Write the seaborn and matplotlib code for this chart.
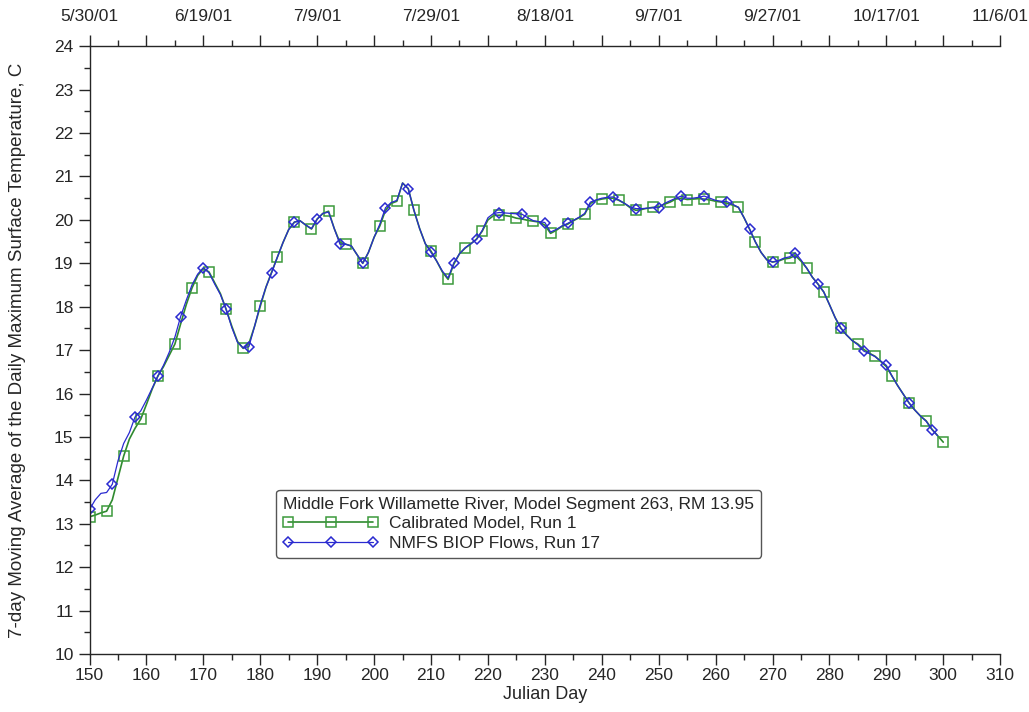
import numpy as np
import pandas as pd
import matplotlib
matplotlib.use("Agg")
import matplotlib.pyplot as plt
from matplotlib.ticker import MultipleLocator
import seaborn as sns

# Julian day 150..300, daily 7-day moving average of daily max temperature (C)
days = list(range(150, 301))

calibrated = [
    13.16, 13.20, 13.25, 13.29, 13.55, 14.05, 14.56, 14.95, 15.20, 15.41,  # 150-159
    15.75, 16.10, 16.40, 16.62, 16.88, 17.14, 17.60, 18.05, 18.43, 18.72,  # 160-169
    18.88, 18.80, 18.55, 18.30, 17.94, 17.55, 17.20, 17.04, 17.15, 17.55,  # 170-179
    18.01, 18.45, 18.80, 19.14, 19.48, 19.78, 19.95, 19.98, 19.88, 19.79,  # 180-189
    20.02, 20.15, 20.20, 19.80, 19.48, 19.44, 19.40, 19.20, 19.00, 19.25,  # 190-199
    19.60, 19.86, 20.22, 20.38, 20.43, 20.85, 20.72, 20.22, 19.80, 19.45,  # 200-209
    19.28, 19.05, 18.80, 18.63, 18.98, 19.22, 19.35, 19.45, 19.56, 19.74,  # 210-219
    20.00, 20.10, 20.11, 20.10, 20.08, 20.04, 20.02, 19.99, 19.97, 19.95,  # 220-229
    19.88, 19.69, 19.76, 19.85, 19.90, 19.98, 20.05, 20.13, 20.38, 20.45,  # 230-239
    20.48, 20.50, 20.50, 20.45, 20.38, 20.28, 20.22, 20.24, 20.27, 20.29,  # 240-249
    20.30, 20.36, 20.41, 20.48, 20.50, 20.47, 20.48, 20.49, 20.48, 20.46,  # 250-259
    20.43, 20.41, 20.38, 20.34, 20.29, 20.05, 19.78, 19.49, 19.25, 19.08,  # 260-269
    19.03, 19.05, 19.10, 19.12, 19.18, 19.05, 18.89, 18.68, 18.52, 18.34,  # 270-279
    18.05, 17.75, 17.51, 17.35, 17.22, 17.14, 17.02, 16.93, 16.86, 16.74,  # 280-289
    16.62, 16.40, 16.18, 15.98, 15.78, 15.62, 15.48, 15.37, 15.18, 15.03,  # 290-299
    14.88,                                                                 # 300
]

nmfs = [
    13.33, 13.55, 13.70, 13.72, 13.91, 14.45, 14.85, 15.10, 15.46, 15.60,  # 150-159
    15.85, 16.12, 16.40, 16.65, 16.95, 17.30, 17.77, 18.15, 18.50, 18.75,  # 160-169
    18.90, 18.78, 18.52, 18.28, 17.94, 17.52, 17.18, 17.05, 17.08, 17.55,  # 170-179
    18.05, 18.45, 18.78, 19.14, 19.48, 19.78, 19.95, 19.98, 19.88, 19.80,  # 180-189
    20.02, 20.15, 20.18, 19.80, 19.44, 19.44, 19.40, 19.20, 19.00, 19.25,  # 190-199
    19.60, 19.90, 20.28, 20.40, 20.45, 20.85, 20.72, 20.22, 19.80, 19.45,  # 200-209
    19.25, 19.05, 18.82, 18.66, 19.01, 19.22, 19.36, 19.45, 19.55, 19.76,  # 210-219
    20.05, 20.15, 20.17, 20.16, 20.15, 20.14, 20.13, 20.05, 19.98, 19.96,  # 220-229
    19.94, 19.72, 19.78, 19.86, 19.92, 19.99, 20.06, 20.15, 20.41, 20.46,  # 230-239
    20.50, 20.52, 20.53, 20.46, 20.38, 20.30, 20.26, 20.26, 20.27, 20.28,  # 240-249
    20.28, 20.38, 20.44, 20.50, 20.55, 20.50, 20.50, 20.52, 20.55, 20.50,  # 250-259
    20.45, 20.43, 20.42, 20.36, 20.29, 20.05, 19.78, 19.49, 19.25, 19.08,  # 260-269
    19.03, 19.06, 19.12, 19.15, 19.24, 19.08, 18.89, 18.68, 18.52, 18.34,  # 270-279
    18.05, 17.75, 17.50, 17.35, 17.22, 17.12, 16.98, 16.92, 16.85, 16.75,  # 280-289
    16.65, 16.40, 16.18, 15.98, 15.78, 15.62, 15.48, 15.36, 15.17, 15.03,  # 290-299
]

top_ticks = [150, 170, 190, 210, 230, 250, 270, 290, 310]
top_labels = ["5/30/01", "6/19/01", "7/9/01", "7/29/01", "8/18/01",
              "9/7/01", "9/27/01", "10/17/01", "11/6/01"]

green_col = "#2f8a2f"
blue_col = "#2a2ad0"

sns.set_style("ticks")
plt.rcParams["font.family"] = ["Liberation Sans", "DejaVu Sans"]

df_cal = pd.DataFrame({"day": days, "temp": calibrated})
df_nmfs = pd.DataFrame({"day": days[:len(nmfs)], "temp": nmfs})

fig = plt.figure(figsize=(10.29, 7.12), dpi=100)
ax = fig.add_axes([0.087, 0.0815, 0.885, 0.8535])

sns.lineplot(data=df_cal, x="day", y="temp", ax=ax, color=green_col, lw=1.2,
             marker="s", markersize=7, markerfacecolor="none",
             markeredgecolor="#3c9a3c", markeredgewidth=1.1, markevery=3,
             label="Calibrated Model, Run 1")
sns.lineplot(data=df_nmfs, x="day", y="temp", ax=ax, color=blue_col, lw=0.9,
             marker="D", markersize=5.5, markerfacecolor="none",
             markeredgecolor=blue_col, markeredgewidth=1.1, markevery=4,
             label="NMFS BIOP Flows, Run 17")

ax.set_xlim(150, 310)
ax.set_ylim(10, 24)
ax.xaxis.set_major_locator(MultipleLocator(10))
ax.xaxis.set_minor_locator(MultipleLocator(5))
ax.yaxis.set_major_locator(MultipleLocator(1))
ax.yaxis.set_minor_locator(MultipleLocator(0.5))
ax.tick_params(which="major", direction="out", length=8, width=1, labelsize=12.5)
ax.tick_params(axis="x", which="major", pad=2)
ax.tick_params(which="minor", direction="out", length=4, width=1)
ax.spines["right"].set_visible(False)
ax.spines["top"].set_visible(False)
for s in ["left", "bottom"]:
    ax.spines[s].set_linewidth(1)

ax.set_xlabel("Julian Day", fontsize=13, labelpad=2)
ax.set_ylabel("7-day Moving Average of the Daily Maximum Surface Temperature, C",
              fontsize=13.5, labelpad=20)

# top date axis
top = ax.secondary_xaxis("top")
top.xaxis.set_minor_locator(MultipleLocator(5))
top.set_xticks(list(range(150, 311, 10)),
               [top_labels[top_ticks.index(d)] if d in top_ticks else "" for d in range(150, 311, 10)])
top.tick_params(which="major", direction="out", length=8, width=1, labelsize=12.5, pad=8)
top.tick_params(which="minor", direction="out", length=4, width=1)
top.spines["top"].set_linewidth(1)

leg = ax.legend(title="Middle Fork Willamette River, Model Segment 263, RM 13.95",
                loc="upper left", bbox_to_anchor=(0.205, 0.27), borderaxespad=0,
                fontsize=12.5, title_fontsize=12.5, numpoints=3, handlelength=5.5,
                handletextpad=0.6, labelspacing=0.25, borderpad=0.4, fancybox=True,
                frameon=True, edgecolor="#555555", framealpha=1)
leg._legend_box.align = "left"
leg.get_frame().set_linewidth(1)

fig.savefig("out.png", dpi=100)
